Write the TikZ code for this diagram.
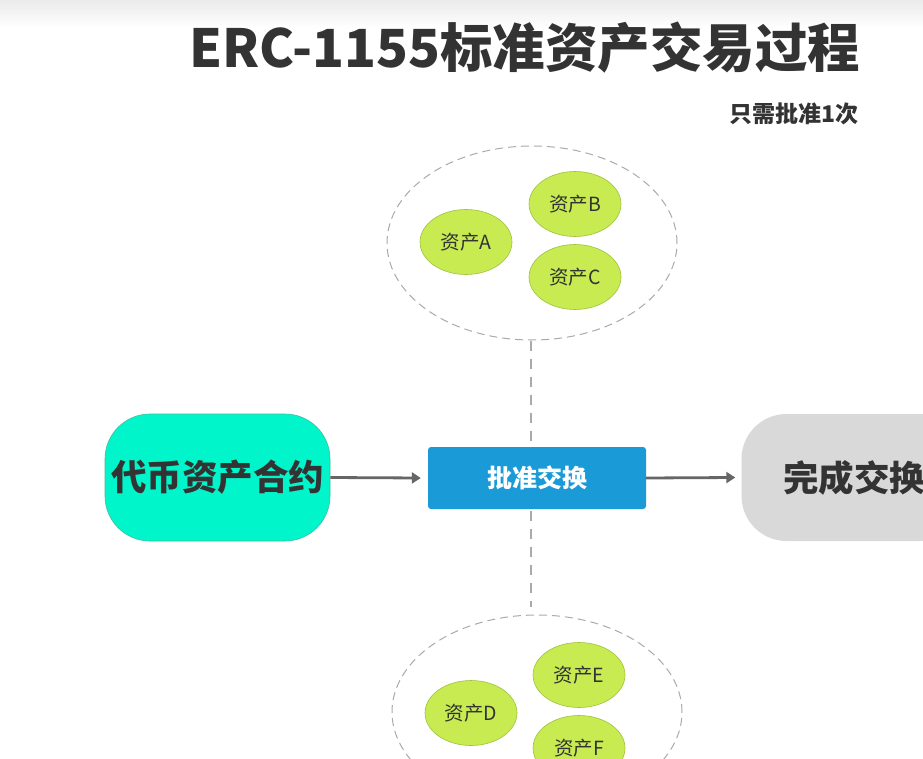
\documentclass[tikz,border=0pt]{standalone}
\usepackage{fontspec}
\setmainfont{Noto Sans CJK SC}
\usetikzlibrary{shapes.geometric,arrows.meta,calc}
\definecolor{titlegray}{HTML}{333333}
\definecolor{assetfill}{HTML}{C8EB52}
\definecolor{assetdraw}{HTML}{9CC23C}
\definecolor{cyanfill}{HTML}{00F5CB}
\definecolor{cyandraw}{HTML}{3FBFA0}
\definecolor{bluefill}{HTML}{1A9BD7}
\definecolor{donefill}{HTML}{D9D9D9}
\definecolor{dashgray}{HTML}{AAAAAA}
\definecolor{arrowgray}{HTML}{666666}
\tikzset{
  group/.style={ellipse, draw=dashgray, dash pattern=on 8pt off 5pt, line width=1pt, minimum width=290pt, minimum height=194pt, inner sep=0pt},
  asset/.style={ellipse, fill=assetfill, draw=assetdraw, line width=0.6pt, minimum width=92pt, minimum height=65pt, inner sep=0pt, font=\fontsize{19.5}{22}\selectfont, text=black!80},
  bigbox/.style={rectangle, rounded corners=45pt, minimum width=225pt, minimum height=127pt, inner sep=0pt, font=\fontsize{35.5}{40}\bfseries\selectfont, text=titlegray},
  approve/.style={rectangle, rounded corners=3pt, fill=bluefill, minimum width=218pt, minimum height=62pt, inner sep=0pt, text=white, font=\fontsize{25}{28}\bfseries\selectfont},
  flow/.style={draw=arrowgray, line width=2.8pt, -{Triangle[length=9pt,width=11pt]}},
  link/.style={draw=dashgray, dash pattern=on 10pt off 8pt, line width=1.2pt}
}
\begin{document}
\begin{tikzpicture}[x=1pt,y=-1pt]
\useasboundingbox (0,0) rectangle (923,759);
\clip (0,0) rectangle (923,759);
\fill[white] (0,0) rectangle (923,759);
\shade[top color=black!8, bottom color=white] (0,0) rectangle (923,28);
% title
\node[font=\fontsize{52.5}{60}\bfseries\selectfont, text=titlegray, anchor=west, inner sep=0pt] (title) at (189,48) {ERC-1155标准资产交易过程};
\node[font=\fontsize{23}{26}\bfseries\selectfont, text=titlegray, anchor=east, inner sep=0pt] (sub) at (859,114) {只需批准1次};
% top group
\node[group] (topg) at (532,243) {};
\node[asset] (a) at (466,242) {资产A};
\node[asset] (b) at (575,204) {资产B};
\node[asset] (c) at (575,277) {资产C};
% bottom group
\node[group] (botg) at (537,712) {};
\node[asset] (d) at (471,713) {资产D};
\node[asset] (e) at (579,675) {资产E};
\node[asset] (f) at (579,748) {资产F};
% main row
\node[bigbox, fill=cyanfill, draw=cyandraw, line width=0.6pt] (token) at (217.5,477.5) {代币资产合约};
\node[approve] (ok) at (537,478) {批准交换};
\node[bigbox, fill=donefill] (done) at (854,477.5) {完成交换};
% connectors
\draw[flow] (token.east) -- ($(ok.west)+(-7,0)$);
\draw[flow] (ok.east) -- ($(done.west)+(-6,0)$);
\draw[link] (topg.south) ++(-1,0) -- (531,445);
\draw[link] (531,511) -- (531,607);
\end{tikzpicture}
\end{document}
